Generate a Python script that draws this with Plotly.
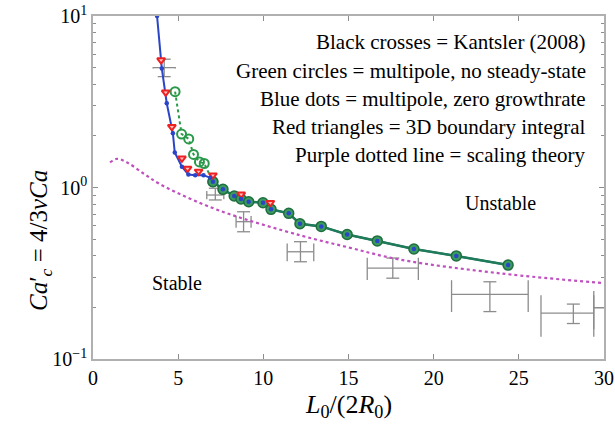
import plotly.graph_objects as go

# Experimental data (Kantsler 2008): centres and error extents
exp_x = [4.18, 7.18, 8.84, 12.18, 17.6, 23.3, 28.2, 31.0]
exp_y = [5.0, 0.904, 0.632, 0.422, 0.339, 0.238, 0.185, 0.199]
exp_xm = [0.65, 0.5, 0.44, 0.78, 1.5, 2.25, 1.9, 1.6]
exp_xp = [0.65, 0.5, 0.44, 0.78, 1.5, 2.25, 1.2, 1.6]
exp_ylo = [4.43, 0.846, 0.552, 0.369, 0.296, 0.189, 0.161, 0.185]
exp_yhi = [5.6, 0.99, 0.722, 0.483, 0.388, 0.282, 0.209, 0.213]

# Multipole, zero growth rate (blue)
blue_x = [3.76, 4.04, 4.33, 4.69, 4.8, 5.22, 5.6, 6.0, 6.49, 6.88,
          7.04, 7.63, 8.29, 8.69, 9.14, 9.98, 10.45, 11.49, 12.15, 13.4,
          14.92, 16.69, 18.84, 21.33, 24.37]
blue_y = [10.0, 4.95, 3.1, 2.07, 1.6, 1.32, 1.19, 1.18, 1.18, 1.14,
          1.08, 0.976, 0.892, 0.857, 0.826, 0.815, 0.746, 0.707, 0.615, 0.593,
          0.532, 0.488, 0.438, 0.399, 0.353]

# Multipole, no steady state (green): open points and filled points
green_open_x = [4.82, 5.2, 5.62, 5.9, 6.25, 6.53, 7.04]
green_open_y = [3.62, 2.05, 1.92, 1.56, 1.41, 1.38, 1.08]
green_x = [7.04, 7.63, 8.29, 8.69, 9.14, 9.98, 10.45, 11.49, 12.15, 13.4,
           14.92, 16.69, 18.84, 21.33, 24.37]
green_y = [1.08, 0.976, 0.892, 0.857, 0.826, 0.815, 0.746, 0.707, 0.615, 0.593,
           0.532, 0.488, 0.438, 0.399, 0.353]

# 3D boundary integral (red)
red_x = [4.0, 4.27, 4.63, 5.22, 5.55, 6.2, 7.04, 8.7, 10.41]
red_y = [5.53, 3.59, 2.26, 1.48, 1.29, 1.24, 1.18, 0.913, 0.815]

# Scaling theory (purple)
theory_x = [1.0, 1.4, 2.0, 3.0, 3.9, 5.7, 8.0, 12.2, 15.1, 18.0, 24.0, 30.0]
theory_y = [1.40, 1.47, 1.40, 1.20, 1.05, 0.86, 0.70, 0.525, 0.445, 0.38, 0.315, 0.277]

# Axis ticks
x_ticks = [0, 5, 10, 15, 20, 25, 30]
y_ticks = [0.1, 1, 10]
y_tick_text = ["10<sup>−1</sup>", "10<sup>0</sup>", "10<sup>1</sup>"]
y_minor = [m * d for d in (0.1, 1) for m in range(2, 10)]

legend_lines = [
    "Black crosses = Kantsler (2008)",
    "Green circles = multipole, no steady-state",
    "Blue dots = multipole, zero growthrate",
    "Red triangles = 3D boundary integral",
    "Purple dotted line = scaling theory",
]

SERIF = "Liberation Serif, Times New Roman, Times, serif"
GRAY = "#8c8c8c"
FRAME = "#b0b0b0"
CAP_X = 0.38    # half width of caps on vertical bars (x units)
CAP_Y = 0.05    # half height of caps on horizontal bars (linear y units)

# Build the error-bar crosses as segments
ex, ey = [], []
for x, y, xm, xp, ylo, yhi in zip(exp_x, exp_y, exp_xm, exp_xp, exp_ylo, exp_yhi):
    # horizontal bar with end caps
    ex += [x - xm, x + xp, None]
    ey += [y, y, None]
    for xe in (x - xm, x + xp):
        ex += [xe, xe, None]
        ey += [y - CAP_Y, y + CAP_Y, None]
    # vertical bar with end caps
    ex += [x, x, None]
    ey += [ylo, yhi, None]
    for ye in (ylo, yhi):
        ex += [x - CAP_X, x + CAP_X, None]
        ey += [ye, ye, None]

fig = go.Figure()

fig.add_trace(go.Scatter(x=ex, y=ey, mode="lines",
                         line=dict(color=GRAY, width=1.3), hoverinfo="skip"))

fig.add_trace(go.Scatter(x=theory_x, y=theory_y, mode="lines", line_shape="spline",
                         line=dict(color="#c050c0", width=2.2, dash="dot")))

fig.add_trace(go.Scatter(x=blue_x, y=blue_y, mode="lines",
                         line=dict(color="#2b45c8", width=2)))

fig.add_trace(go.Scatter(x=green_open_x, y=green_open_y, mode="lines+markers",
                         line=dict(color="#2a9a4a", width=2, dash="dot"),
                         marker=dict(symbol="circle-open", size=9,
                                     line=dict(color="#2a9a4a", width=2))))

fig.add_trace(go.Scatter(x=green_x, y=green_y, mode="lines+markers",
                         line=dict(color="#1f7d55", width=2.5),
                         marker=dict(symbol="circle", size=10, color="#3b9a5e",
                                     line=dict(color="#1f6e40", width=1.5))))

fig.add_trace(go.Scatter(x=red_x, y=red_y, mode="markers",
                         marker=dict(symbol="triangle-down", size=7, color="#ffc0c0",
                                     line=dict(color="#ee2222", width=2))))

fig.add_trace(go.Scatter(x=blue_x, y=blue_y, mode="markers",
                         marker=dict(symbol="circle", size=4.5, color="#2b45c8")))

# empty trace so the minor-tick axis is drawn
fig.add_trace(go.Scatter(x=[None], y=[None], yaxis="y2", showlegend=False, hoverinfo="skip"))

legend_y = [0.924, 0.840, 0.758, 0.676, 0.594]
annotations = [
    dict(text=t, x=0.9687, y=yy, xref="paper", yref="paper", xanchor="right",
         yanchor="middle", showarrow=False, font=dict(family=SERIF, size=21, color="black"))
    for t, yy in zip(legend_lines, legend_y)
]
annotations += [
    dict(text="Unstable", x=23.9, y=-0.09, xref="x", yref="y", showarrow=False,
         font=dict(family=SERIF, size=20, color="black")),
    dict(text="Stable", x=4.94, y=-0.557, xref="x", yref="y", showarrow=False,
         font=dict(family=SERIF, size=20, color="black")),
    # axis titles
    dict(text="<i>L</i><sub>0</sub>/(2<i>R</i><sub>0</sub>)", x=0.5, y=-0.138,
         xref="paper", yref="paper", xanchor="center", yanchor="middle", showarrow=False,
         font=dict(family=SERIF, size=26, color="black")),
    dict(text="<i>Ca</i>′<sub><i>c</i></sub> = 4/3<i>νCa</i>", x=-0.103, y=0.345,
         xref="paper", yref="paper", xanchor="center", yanchor="middle", showarrow=False,
         textangle=-90, font=dict(family=SERIF, size=25, color="black")),
]

fig.update_layout(
    width=615, height=425,
    margin=dict(l=93, r=11, t=16, b=66, autoexpand=False),
    paper_bgcolor="white", plot_bgcolor="white",
    showlegend=False,
    annotations=annotations,
    font=dict(family=SERIF, size=19, color="black"),
    xaxis=dict(range=[0, 30], tickvals=x_ticks, automargin=False,
               ticks="inside", ticklen=5, tickcolor=GRAY, tickwidth=1,
               showline=True, linecolor=FRAME, linewidth=1.5, mirror="ticks",
               showgrid=False, zeroline=False,
               tickfont=dict(family=SERIF, size=20, color="black")),
    yaxis=dict(type="log", range=[-1, 1], tickvals=y_ticks, ticktext=y_tick_text,
               automargin=False, ticks="inside", ticklen=5, tickcolor=GRAY, tickwidth=1,
               showline=True, linecolor=FRAME, linewidth=1.5, mirror="ticks",
               showgrid=False, zeroline=False,
               tickfont=dict(family=SERIF, size=20, color="black")),
    # second y axis carrying the minor log ticks
    yaxis2=dict(type="log", range=[-1, 1], overlaying="y", side="left",
                tickvals=y_minor, ticks="inside", ticklen=3, tickcolor=GRAY,
                showticklabels=False, showline=False, mirror="ticks",
                showgrid=False, zeroline=False, automargin=False),
)

fig.write_html("out.html")
